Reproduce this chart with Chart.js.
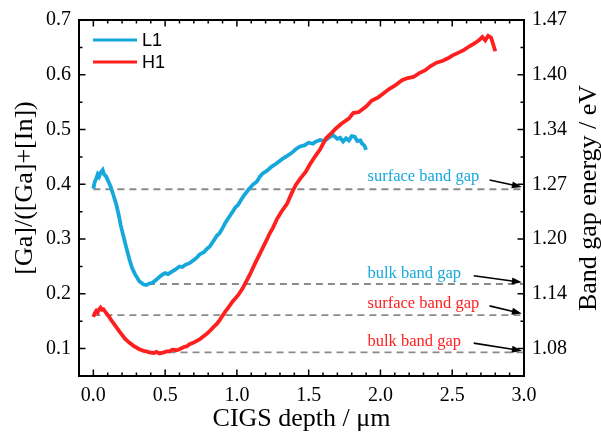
<!DOCTYPE html>
<html>
<head>
<meta charset="utf-8">
<script src="https://cdn.jsdelivr.net/npm/chart.js@4.4.1/dist/chart.umd.min.js"></script>
<style>
  body { margin: 0; background: #fff; }
  canvas { display: block; }
</style>
</head>
<body>
<canvas id="chart" width="601" height="436"></canvas>
<script>
// depth (um) and Ga/(Ga+In)
const depthL1 = [0.00, 0.01, 0.02, 0.03, 0.04, 0.05, 0.065, 0.075, 0.09, 0.10, 0.12, 0.14, 0.16, 0.18, 0.19, 0.21, 0.23, 0.25, 0.27, 0.29, 0.32, 0.35, 0.37, 0.39, 0.41, 0.44, 0.46, 0.48, 0.50, 0.52, 0.55, 0.57, 0.60, 0.62, 0.64, 0.67, 0.70, 0.72, 0.74, 0.77, 0.79, 0.81, 0.84, 0.86, 0.88, 0.90, 0.92, 0.94, 0.97, 0.99, 1.01, 1.03, 1.05, 1.08, 1.11, 1.14, 1.16, 1.18, 1.21, 1.24, 1.27, 1.30, 1.32, 1.35, 1.38, 1.41, 1.44, 1.47, 1.50, 1.53, 1.55, 1.58, 1.61, 1.64, 1.67, 1.70, 1.72, 1.74, 1.76, 1.78, 1.80, 1.82, 1.84, 1.86, 1.87, 1.89, 1.90];
const gaL1 = [0.392, 0.405, 0.410, 0.418, 0.414, 0.421, 0.426, 0.418, 0.414, 0.408, 0.396, 0.380, 0.363, 0.340, 0.326, 0.305, 0.284, 0.264, 0.247, 0.236, 0.223, 0.217, 0.216, 0.219, 0.220, 0.226, 0.231, 0.235, 0.238, 0.236, 0.241, 0.244, 0.250, 0.249, 0.253, 0.256, 0.262, 0.266, 0.272, 0.276, 0.282, 0.286, 0.298, 0.306, 0.311, 0.320, 0.330, 0.338, 0.350, 0.358, 0.363, 0.372, 0.380, 0.390, 0.399, 0.405, 0.414, 0.420, 0.425, 0.432, 0.437, 0.443, 0.447, 0.452, 0.457, 0.464, 0.469, 0.471, 0.476, 0.474, 0.478, 0.481, 0.479, 0.485, 0.490, 0.483, 0.485, 0.478, 0.484, 0.480, 0.488, 0.487, 0.479, 0.480, 0.475, 0.470, 0.463];

const depthH1 = [0.00, 0.01, 0.02, 0.03, 0.04, 0.05, 0.06, 0.07, 0.09, 0.11, 0.13, 0.15, 0.18, 0.20, 0.22, 0.25, 0.28, 0.30, 0.32, 0.35, 0.37, 0.39, 0.42, 0.44, 0.46, 0.49, 0.51, 0.53, 0.55, 0.58, 0.60, 0.63, 0.65, 0.67, 0.70, 0.72, 0.74, 0.77, 0.79, 0.81, 0.84, 0.86, 0.88, 0.90, 0.92, 0.94, 0.97, 0.99, 1.01, 1.04, 1.07, 1.09, 1.12, 1.15, 1.18, 1.21, 1.23, 1.25, 1.28, 1.31, 1.35, 1.38, 1.41, 1.44, 1.48, 1.51, 1.55, 1.58, 1.62, 1.66, 1.69, 1.73, 1.78, 1.81, 1.85, 1.90, 1.94, 1.98, 2.02, 2.06, 2.10, 2.15, 2.19, 2.23, 2.27, 2.31, 2.35, 2.39, 2.43, 2.47, 2.50, 2.54, 2.58, 2.62, 2.66, 2.69, 2.71, 2.73, 2.75, 2.77, 2.78, 2.80];
const gaH1 = [0.158, 0.165, 0.169, 0.166, 0.172, 0.175, 0.171, 0.172, 0.165, 0.158, 0.150, 0.143, 0.132, 0.125, 0.118, 0.111, 0.105, 0.102, 0.099, 0.096, 0.095, 0.093, 0.092, 0.094, 0.091, 0.093, 0.095, 0.095, 0.098, 0.097, 0.099, 0.103, 0.104, 0.108, 0.111, 0.114, 0.117, 0.123, 0.127, 0.132, 0.140, 0.145, 0.152, 0.160, 0.168, 0.175, 0.186, 0.192, 0.198, 0.210, 0.225, 0.235, 0.252, 0.268, 0.284, 0.300, 0.311, 0.320, 0.337, 0.350, 0.365, 0.383, 0.399, 0.410, 0.423, 0.437, 0.453, 0.464, 0.484, 0.494, 0.502, 0.511, 0.520, 0.530, 0.532, 0.542, 0.553, 0.558, 0.566, 0.574, 0.580, 0.590, 0.594, 0.596, 0.603, 0.608, 0.616, 0.622, 0.625, 0.630, 0.635, 0.640, 0.645, 0.652, 0.658, 0.664, 0.669, 0.663, 0.671, 0.668, 0.660, 0.643];

// reference band gap levels (dashed) and their notes
const refY = [0.391, 0.218, 0.161, 0.093];
const refStart = [0.0, 0.38, 0.0, 0.44];
const refEnd = 3.0;
const noteText = ['surface band gap', 'bulk band gap', 'surface band gap', 'bulk band gap'];
const noteY = [0.414, 0.237, 0.182, 0.113];
const noteX = 1.91;
const arrowFromX = [2.76, 2.65, 2.76, 2.65];
const arrowFromY = [0.408, 0.233, 0.178, 0.110];
const arrowToX = 2.985;
const arrowToY = [0.395, 0.221, 0.164, 0.096];

// axis ticks
const depthTicks = [0.0, 0.5, 1.0, 1.5, 2.0, 2.5, 3.0];
const gaTicks = [0.1, 0.2, 0.3, 0.4, 0.5, 0.6, 0.7];
const energyLabels = ['1.08', '1.14', '1.20', '1.27', '1.34', '1.40', '1.47'];

const cyan = '#16a8db';
const red = '#ff1f1f';
const noteColors = [cyan, cyan, red, red];
const serif = '"Liberation Serif", "Times New Roman", serif';

function pts(xs, ys) {
  return xs.map((x, i) => ({ x: x, y: ys[i] }));
}

const datasets = [
  { label: 'H1', data: pts(depthH1, gaH1), borderColor: red, borderWidth: 3.8, order: 0 },
  { label: 'L1', data: pts(depthL1, gaL1), borderColor: cyan, borderWidth: 3.8, order: 1 }
];
refY.forEach((y, i) => {
  datasets.push({
    label: 'ref' + i,
    data: [{ x: refStart[i], y: y }, { x: refEnd, y: y }],
    borderColor: '#8a8a8a',
    borderWidth: 1.8,
    borderDash: [7, 5],
    order: 2
  });
});

const decor = {
  id: 'decor',
  afterDatasetsDraw(chart) {
    const ctx = chart.ctx;
    const a = chart.chartArea;
    const xs = chart.scales.x, ys = chart.scales.y;
    ctx.save();

    // notes + arrows
    ctx.font = '16.5px ' + serif;
    ctx.textBaseline = 'middle';
    ctx.textAlign = 'left';
    noteText.forEach((t, i) => {
      ctx.fillStyle = noteColors[i];
      ctx.fillText(t, xs.getPixelForValue(noteX), ys.getPixelForValue(noteY[i]));
      const x0 = xs.getPixelForValue(arrowFromX[i]), y0 = ys.getPixelForValue(arrowFromY[i]);
      const x1 = xs.getPixelForValue(arrowToX), y1 = ys.getPixelForValue(arrowToY[i]);
      const ang = Math.atan2(y1 - y0, x1 - x0);
      ctx.strokeStyle = '#000';
      ctx.fillStyle = '#000';
      ctx.lineWidth = 1.6;
      ctx.beginPath();
      ctx.moveTo(x0, y0);
      ctx.lineTo(x1 - 8 * Math.cos(ang), y1 - 8 * Math.sin(ang));
      ctx.stroke();
      ctx.beginPath();
      ctx.moveTo(x1, y1);
      ctx.lineTo(x1 - 10 * Math.cos(ang) + 3.5 * Math.sin(ang), y1 - 10 * Math.sin(ang) - 3.5 * Math.cos(ang));
      ctx.lineTo(x1 - 10 * Math.cos(ang) - 3.5 * Math.sin(ang), y1 - 10 * Math.sin(ang) + 3.5 * Math.cos(ang));
      ctx.closePath();
      ctx.fill();
    });

    // legend
    const legend = [['L1', cyan], ['H1', red]];
    ctx.font = '18px "Liberation Sans", Arial, sans-serif';
    legend.forEach((l, i) => {
      const y = 40 + i * 22;
      ctx.strokeStyle = l[1];
      ctx.lineWidth = 3;
      ctx.beginPath();
      ctx.moveTo(93, y);
      ctx.lineTo(137, y);
      ctx.stroke();
      ctx.fillStyle = '#000';
      ctx.textAlign = 'left';
      ctx.fillText(l[0], 142, y + 1);
    });

    // frame
    ctx.strokeStyle = '#000';
    ctx.lineWidth = 2;
    ctx.strokeRect(a.left, a.top, a.right - a.left, a.bottom - a.top);

    // inward ticks, major + minor
    ctx.lineWidth = 1.5;
    ctx.beginPath();
    for (let k = 0; k <= 30; k++) {
      const v = k / 10;
      const p = xs.getPixelForValue(v);
      const len = k % 5 === 0 ? 6.5 : 3.5;
      ctx.moveTo(p, a.bottom); ctx.lineTo(p, a.bottom - len);
      ctx.moveTo(p, a.top); ctx.lineTo(p, a.top + len);
    }
    for (let k = 1; k <= 14; k++) {
      const v = k * 0.05;
      const p = ys.getPixelForValue(v);
      const len = k % 2 === 0 ? 6.5 : 3.5;
      ctx.moveTo(a.left, p); ctx.lineTo(a.left + len, p);
      ctx.moveTo(a.right, p); ctx.lineTo(a.right - len, p);
    }
    ctx.stroke();

    // axis titles
    ctx.fillStyle = '#000';
    ctx.font = '26px ' + serif;
    ctx.textAlign = 'center';
    ctx.textBaseline = 'middle';
    ctx.fillText('CIGS depth / \u03bcm', (a.left + a.right) / 2, 419);
    ctx.save();
    ctx.translate(25, 188);
    ctx.rotate(-Math.PI / 2);
    ctx.fillText('[Ga]/([Ga]+[In])', 0, 0);
    ctx.restore();
    ctx.save();
    ctx.translate(589, 198);
    ctx.rotate(-Math.PI / 2);
    ctx.fillText('Band gap energy / eV', 0, 0);
    ctx.restore();

    ctx.restore();
  }
};

new Chart(document.getElementById('chart'), {
  type: 'scatter',
  data: { datasets: datasets },
  options: {
    responsive: false,
    animation: false,
    devicePixelRatio: 1,
    layout: { padding: { top: 18, left: 0, right: 0, bottom: 0 } },
    elements: {
      point: { radius: 0, hoverRadius: 0 },
      line: { tension: 0, fill: false }
    },
    datasets: { scatter: { showLine: true } },
    plugins: { legend: { display: false }, tooltip: { enabled: false } },
    scales: {
      x: {
        type: 'linear',
        min: -0.1,
        max: 3.0,
        grid: { display: false, drawTicks: false },
        border: { display: false },
        afterBuildTicks: s => { s.ticks = depthTicks.map(v => ({ value: v })); },
        afterFit: s => { s.height = 60; },
        ticks: {
          padding: 8,
          color: '#000',
          font: { family: serif, size: 20 },
          callback: v => Number(v).toFixed(1)
        }
      },
      y: {
        type: 'linear',
        position: 'left',
        min: 0.05,
        max: 0.7,
        grid: { display: false, drawTicks: false },
        border: { display: false },
        afterBuildTicks: s => { s.ticks = gaTicks.map(v => ({ value: v })); },
        afterFit: s => { s.width = 79; },
        ticks: {
          padding: 8,
          color: '#000',
          font: { family: serif, size: 20 },
          callback: v => Number(v).toFixed(1)
        }
      },
      y2: {
        type: 'linear',
        position: 'right',
        min: 0.05,
        max: 0.7,
        grid: { display: false, drawTicks: false },
        border: { display: false },
        afterBuildTicks: s => { s.ticks = gaTicks.map(v => ({ value: v })); },
        afterFit: s => { s.width = 77; },
        ticks: {
          padding: 8,
          color: '#000',
          font: { family: serif, size: 20 },
          callback: (v, i) => energyLabels[i]
        }
      }
    }
  },
  plugins: [decor]
});
</script>
</body>
</html>
